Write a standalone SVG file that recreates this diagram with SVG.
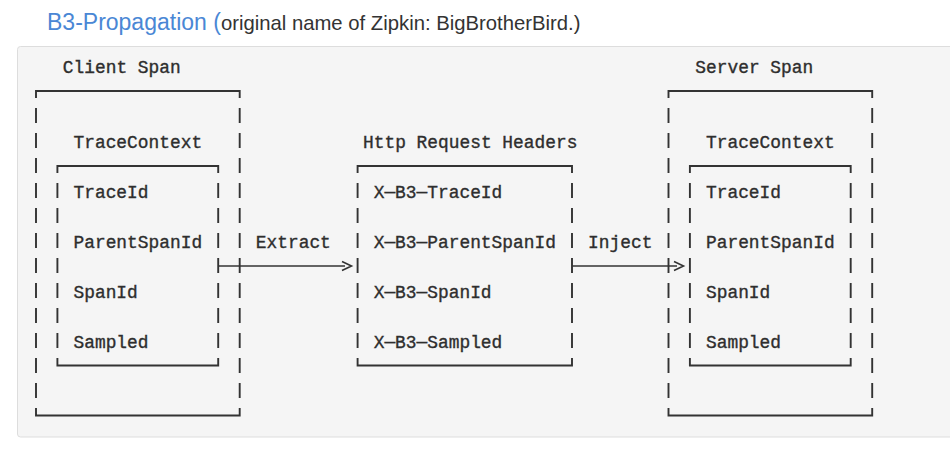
<svg xmlns="http://www.w3.org/2000/svg" width="950" height="451" viewBox="0 0 950 451">
  <style>
    .mono { font-family: "Liberation Mono", "DejaVu Sans Mono", monospace; font-size: 17.87px; fill: #2e2e2e; stroke: #2e2e2e; stroke-width: 0.35; }
    .frame { fill: none; stroke: #333333; stroke-width: 1.9; }
    .side { fill: none; stroke: #333333; stroke-width: 1.9; stroke-dasharray: 15 10; }
    .conn { fill: none; stroke: #333333; stroke-width: 1.6; }
    .head { font-family: "Liberation Sans", Arial, sans-serif; }
  </style>
  <rect x="0" y="0" width="950" height="451" fill="#ffffff"/>
  <text class="head" x="47" y="29.5"><tspan font-size="23" fill="#4a87d5">B3-Propagation (</tspan><tspan font-size="20.3" fill="#333333">original name of Zipkin: BigBrotherBird.)</tspan></text>
  <rect x="17.5" y="46.5" width="960" height="390.5" rx="3" fill="#f5f5f5" stroke="#dddddd" stroke-width="1"/>

  <g id="client-span">
    <text class="mono" x="62.8" y="73">Client Span</text>
    <path class="frame" d="M36,98 V91 H239.7 V98 M36,408 V415.5 H239.7 V408"/>
    <path class="side" d="M36,108 V398 M239.7,108 V398"/>
  </g>
  <g id="client-trace-context">
    <text class="mono" x="73.5" y="148">TraceContext</text>
    <path class="frame" d="M57.4,173 V166 H218.2 V173 M57.4,358 V365.5 H218.2 V358"/>
    <path class="side" d="M57.4,183 V348 M218.2,183 V348"/>
    <text class="mono" x="73.5" y="198">TraceId</text>
    <text class="mono" x="73.5" y="248">ParentSpanId</text>
    <text class="mono" x="73.5" y="298">SpanId</text>
    <text class="mono" x="73.5" y="348">Sampled</text>
  </g>
  <g id="http-request-headers">
    <text class="mono" x="363" y="148">Http Request Headers</text>
    <path class="frame" d="M357.6,173 V166 H572 V173 M357.6,358 V365.5 H572 V358"/>
    <path class="side" d="M357.6,183 V348 M572,183 V348"/>
    <text class="mono" x="373.7" y="198">X─B3─TraceId</text>
    <text class="mono" x="373.7" y="248">X─B3─ParentSpanId</text>
    <text class="mono" x="373.7" y="298">X─B3─SpanId</text>
    <text class="mono" x="373.7" y="348">X─B3─Sampled</text>
  </g>
  <g id="server-span">
    <text class="mono" x="695.3" y="73">Server Span</text>
    <path class="frame" d="M668.5,98 V91 H872.2 V98 M668.5,408 V415.5 H872.2 V408"/>
    <path class="side" d="M668.5,108 V398 M872.2,108 V398"/>
  </g>
  <g id="server-trace-context">
    <text class="mono" x="706" y="148">TraceContext</text>
    <path class="frame" d="M689.9,173 V166 H850.7 V173 M689.9,358 V365.5 H850.7 V358"/>
    <path class="side" d="M689.9,183 V348 M850.7,183 V348"/>
    <text class="mono" x="706" y="198">TraceId</text>
    <text class="mono" x="706" y="248">ParentSpanId</text>
    <text class="mono" x="706" y="298">SpanId</text>
    <text class="mono" x="706" y="348">Sampled</text>
  </g>

  <g id="connectors">
    <g id="extract">
      <text class="mono" x="255.8" y="248">Extract</text>
      <path class="conn" d="M218.2,266 H345"/>
      <path class="conn" d="M342,261.5 L351.5,266 L342,270.5"/>
    </g>
    <g id="inject">
      <text class="mono" x="588.1" y="248">Inject</text>
      <path class="conn" d="M572,266 H677"/>
      <path class="conn" d="M674,261.5 L683.5,266 L674,270.5"/>
    </g>
  </g>
</svg>
